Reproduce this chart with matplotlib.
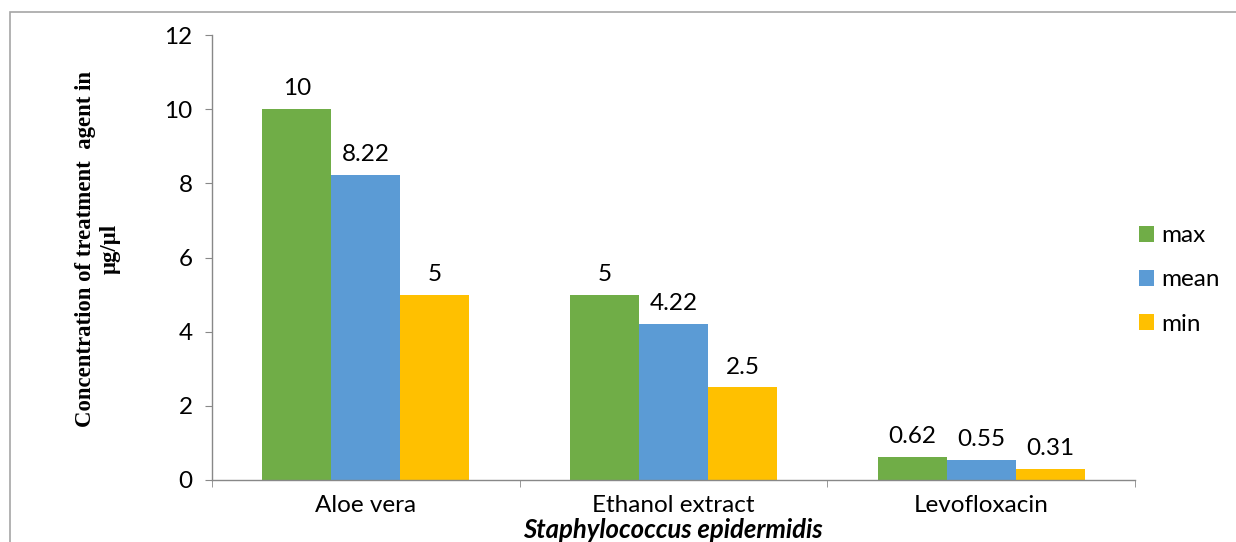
import numpy as np
import matplotlib
matplotlib.use("Agg")
import matplotlib.pyplot as plt
from matplotlib.patches import Rectangle

# MIC values per treatment agent (ug/ul)
agents = ["Aloe vera", "Ethanol extract", "Levofloxacin"]
series = ["max", "mean", "min"]
max_vals = [10, 5, 0.62]
mean_vals = [8.22, 4.22, 0.55]
min_vals = [5, 2.5, 0.31]
colors = ["#70AD47", "#5B9BD5", "#FFC000"]

plt.rcParams['font.family'] = ['Lato', 'DejaVu Sans']
fs = 17.5

fig = plt.figure(figsize=(12.36, 5.42), dpi=100)
ax = fig.add_axes([212/1236, 1-480/542, (1135-212)/1236, (480-35)/542])

x = np.arange(len(agents))
w = 0.224
for i, (vals, name) in enumerate(zip([max_vals, mean_vals, min_vals], series)):
    bars = ax.bar(x + (i-1)*w, vals, w, color=colors[i], label=name)
    ax.bar_label(bars, labels=[f"{v:g}" for v in vals], padding=7, fontsize=fs)

ax.set_xlim(-0.5, 2.5)
ax.set_ylim(0, 12)
ax.set_yticks(np.arange(0, 13, 2))
ax.set_xticks(x)
ax.set_xticklabels(agents, fontsize=fs)
ax.set_xticks([-0.5, 0.5, 1.5, 2.5], minor=True)
ax.tick_params(axis='x', which='major', length=0, pad=11)
ax.tick_params(axis='x', which='minor', length=5, color='#888888', direction='out')
ax.tick_params(axis='y', length=5, color='#888888', labelsize=fs, pad=9)
for s in ['top', 'right']:
    ax.spines[s].set_visible(False)
for s in ['left', 'bottom']:
    ax.spines[s].set_color('#888888')
    ax.spines[s].set_linewidth(1.0)

fig.text(98/1236, 1-249/542, "Concentration of treatment  agent in\n\u00b5g/\u00b5l",
         rotation=90, ha='center', va='center', family='Liberation Serif',
         fontweight='bold', fontsize=16.4, linespacing=1.2)
fig.text(673/1236, 1-538/542, "Staphylococcus epidermidis", ha='center', va='baseline',
         fontsize=18.5, fontweight='bold', fontstyle='italic')

ax.legend(loc='center left', bbox_to_anchor=(1139/1236, 1-280/542),
          bbox_transform=fig.transFigure, frameon=False, fontsize=fs,
          handlelength=0.62, handleheight=0.62, handletextpad=0.3,
          labelspacing=0.95, borderpad=0, borderaxespad=0)

fig.add_artist(Rectangle((10/1236, -0.2), 1.2, 1.2-12/542, transform=fig.transFigure,
                         fill=False, edgecolor='#A6A6A6', linewidth=1.2))

fig.savefig("out.png", dpi=100)
